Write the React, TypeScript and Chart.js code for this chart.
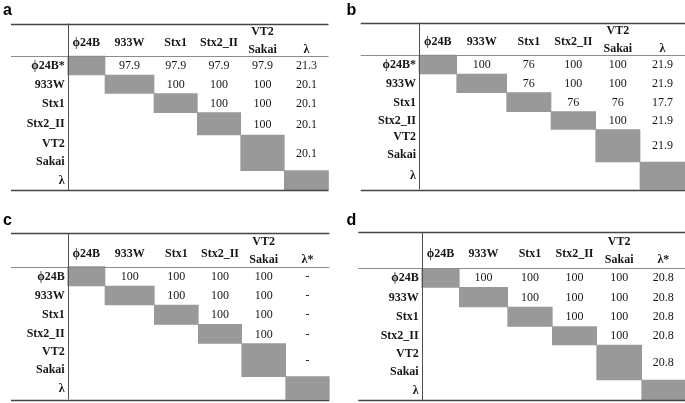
import React, { useEffect, useRef } from 'react';
import { Chart, registerables } from 'chart.js';

Chart.register(...registerables);

const PHI = '\u03D5';

// ---- Table labels ----
const headersAB = [`${PHI}24B`, '933W', 'Stx1', 'Stx2_II', 'VT2\nSakai', 'λ'];
const headersCD = [`${PHI}24B`, '933W', 'Stx1', 'Stx2_II', 'VT2\nSakai', 'λ*'];
const rowLabelsAB = [`${PHI}24B*`, '933W', 'Stx1', 'Stx2_II', 'VT2\nSakai', 'λ'];
const rowLabelsCD = [`${PHI}24B`, '933W', 'Stx1', 'Stx2_II', 'VT2\nSakai', 'λ'];

// ---- Cell values (null = empty; diagonal cells are shaded) ----
const valuesA = [
  [null, 97.9, 97.9, 97.9, 97.9, 21.3],
  [null, null, 100, 100, 100, 20.1],
  [null, null, null, 100, 100, 20.1],
  [null, null, null, null, 100, 20.1],
  [null, null, null, null, null, 20.1],
  [null, null, null, null, null, null],
];
const valuesB = [
  [null, 100, 76, 100, 100, 21.9],
  [null, null, 76, 100, 100, 21.9],
  [null, null, null, 76, 76, 17.7],
  [null, null, null, null, 100, 21.9],
  [null, null, null, null, null, 21.9],
  [null, null, null, null, null, null],
];
const valuesC = [
  [null, 100, 100, 100, 100, '-'],
  [null, null, 100, 100, 100, '-'],
  [null, null, null, 100, 100, '-'],
  [null, null, null, null, 100, '-'],
  [null, null, null, null, null, '-'],
  [null, null, null, null, null, null],
];
const valuesD = [
  [null, 100, 100, 100, 100, 20.8],
  [null, null, 100, 100, 100, 20.8],
  [null, null, null, 100, 100, 20.8],
  [null, null, null, null, 100, 20.8],
  [null, null, null, null, null, 20.8],
  [null, null, null, null, null, null],
];

// ---- Layout (panel geometry, in panel-local scale units) ----
const layoutA = {
  left: 0, top: 0, width: 340, height: 200, letterX: 3, letterY: 15,
  lineLeft: 11, lineRight: 328.5, topLine: 23.5, headLine: 56, bottomLine: 190,
  cols: [67.7, 105, 154, 197.3, 240.7, 284.3, 328.5],
  rows: [56, 75, 93.5, 112.7, 135, 170.7, 190],
};
const layoutB = {
  left: 340, top: 0, width: 345, height: 200, letterX: 6.5, letterY: 15,
  lineLeft: 20.7, lineRight: 345, topLine: 22.7, headLine: 55, bottomLine: 189.5,
  cols: [79, 116.7, 166.7, 211, 255.7, 300, 345],
  rows: [55, 74, 92.7, 111.7, 129.5, 162, 189.5],
};
const layoutC = {
  left: 0, top: 200, width: 340, height: 203, letterX: 3, letterY: 25,
  lineLeft: 11, lineRight: 329.3, topLine: 33.3, headLine: 66.7, bottomLine: 199.5,
  cols: [67.7, 105, 154.3, 198.3, 241.7, 285.7, 329.3],
  rows: [66.7, 86, 105, 124.3, 143.5, 176.7, 199.5],
};
const layoutD = {
  left: 340, top: 200, width: 345, height: 203, letterX: 6.5, letterY: 25,
  lineLeft: 18.3, lineRight: 345, topLine: 32.3, headLine: 68.3, bottomLine: 200.3,
  cols: [81.7, 119.3, 167.7, 212.3, 256.7, 301.7, 345],
  rows: [68.3, 87.3, 107, 126.5, 145, 180, 200.3],
};

const panels = [
  { letter: 'a', headers: headersAB, rowLabels: rowLabelsAB, values: valuesA, layout: layoutA },
  { letter: 'b', headers: headersAB, rowLabels: rowLabelsAB, values: valuesB, layout: layoutB },
  { letter: 'c', headers: headersCD, rowLabels: rowLabelsCD, values: valuesC, layout: layoutC },
  { letter: 'd', headers: headersCD, rowLabels: rowLabelsCD, values: valuesD, layout: layoutD },
];

const SHADE = '#999999';
const TEXT = '#161616';
const LABEL_FONT = 'bold 12px "Liberation Serif", "Times New Roman", serif';
const VALUE_FONT = '12px "Liberation Serif", "Times New Roman", serif';
const LETTER_FONT = 'bold 16px "Liberation Sans", Arial, sans-serif';
const LINE_GAP = 9;

function makePlugin(panel: any) {
  return {
    id: 'matrixTable' + panel.letter,
    afterDatasetsDraw(chart: any) {
      const { ctx } = chart;
      const L = panel.layout;
      const xs = chart.scales.x;
      const ys = chart.scales.y;
      const X = (v: number) => xs.getPixelForValue(v);
      const Y = (v: number) => ys.getPixelForValue(v);
      const crisp = (v: number) => Math.round(v) + 0.5;

      ctx.save();
      // rules
      const hline = (y: number, color: string, w: number) => {
        ctx.beginPath();
        ctx.strokeStyle = color;
        ctx.lineWidth = w;
        ctx.moveTo(X(L.lineLeft), crisp(Y(y)));
        ctx.lineTo(X(L.lineRight), crisp(Y(y)));
        ctx.stroke();
      };
      hline(L.topLine, '#454545', 1.4);
      hline(L.headLine, '#8c8c8c', 1);
      hline(L.bottomLine, '#454545', 1.4);
      ctx.beginPath();
      ctx.strokeStyle = '#4f4f4f';
      ctx.lineWidth = 1;
      ctx.moveTo(crisp(X(L.cols[0])), Y(L.topLine));
      ctx.lineTo(crisp(X(L.cols[0])), Y(L.bottomLine));
      ctx.stroke();

      ctx.fillStyle = TEXT;
      ctx.textBaseline = 'middle';

      // header labels
      ctx.font = LABEL_FONT;
      ctx.textAlign = 'center';
      const hMid = (Y(L.topLine) + Y(L.headLine)) / 2 + 1;
      panel.headers.forEach((h: string, j: number) => {
        const cx = (X(L.cols[j]) + X(L.cols[j + 1])) / 2;
        const parts = h.split('\n');
        if (parts.length > 1) {
          ctx.fillText(parts[0], cx, hMid - LINE_GAP);
          ctx.fillText(parts[1], cx, hMid + LINE_GAP);
        } else if (j === panel.headers.length - 1) {
          ctx.fillText(h, cx, hMid + LINE_GAP);
        } else {
          ctx.fillText(h, cx, hMid + 2.5);
        }
      });

      // row labels
      ctx.textAlign = 'right';
      const rx = X(L.cols[0]) - 3;
      panel.rowLabels.forEach((r: string, i: number) => {
        const my = (Y(L.rows[i]) + Y(L.rows[i + 1])) / 2;
        const parts = r.split('\n');
        if (parts.length > 1) {
          ctx.fillText(parts[0], rx, my - LINE_GAP + 0.5);
          ctx.fillText(parts[1], rx, my + LINE_GAP + 0.5);
        } else {
          ctx.fillText(r, rx, my + 0.5);
        }
      });

      // values
      ctx.font = VALUE_FONT;
      ctx.textAlign = 'center';
      panel.values.forEach((row: any[], i: number) => {
        const my = (Y(L.rows[i]) + Y(L.rows[i + 1])) / 2;
        row.forEach((v, j) => {
          if (v === null || v === undefined) return;
          const cx = (X(L.cols[j]) + X(L.cols[j + 1])) / 2;
          ctx.fillText(String(v), cx, my + 0.5);
        });
      });

      // panel letter
      ctx.font = LETTER_FONT;
      ctx.textAlign = 'left';
      ctx.textBaseline = 'alphabetic';
      ctx.fillStyle = '#000';
      ctx.fillText(panel.letter, X(L.letterX), Y(L.letterY));
      ctx.restore();
    },
  };
}

function TablePanel({ panel }: { panel: any }) {
  const ref = useRef<HTMLCanvasElement>(null);
  useEffect(() => {
    const L = panel.layout;
    const datasets = panel.rowLabels.map((_: string, i: number) => ({
      type: 'bar',
      label: 'diag' + i,
      data: [{ x: (L.cols[i] + L.cols[i + 1]) / 2, y: [L.rows[i], L.rows[i + 1]] }],
      barThickness: L.cols[i + 1] - L.cols[i],
      backgroundColor: SHADE,
      borderWidth: 0,
      grouped: false,
    }));
    const chart = new Chart(ref.current as HTMLCanvasElement, {
      type: 'bar',
      data: { datasets } as any,
      options: {
        animation: false,
        responsive: false,
        maintainAspectRatio: false,
        events: [],
        layout: { padding: 0 },
        plugins: { legend: { display: false }, tooltip: { enabled: false }, title: { display: false } },
        scales: {
          x: { type: 'linear', min: 0, max: L.width, display: false, offset: false, grid: { display: false } },
          y: { type: 'linear', min: 0, max: L.height, reverse: true, display: false, beginAtZero: false, grid: { display: false } },
        },
      } as any,
      plugins: [makePlugin(panel)],
    });
    return () => chart.destroy();
  }, [panel]);
  const L = panel.layout;
  return (
    <div style={{ position: 'absolute', left: L.left, top: L.top, width: L.width, height: L.height }}>
      <canvas ref={ref} width={L.width} height={L.height} style={{ display: 'block', width: L.width, height: L.height }} />
    </div>
  );
}

export default function App() {
  return (
    <div style={{ position: 'absolute', left: 0, top: 0, width: 685, height: 403, background: '#ffffff', overflow: 'hidden' }}>
      {panels.map((p) => (
        <TablePanel key={p.letter} panel={p} />
      ))}
    </div>
  );
}
